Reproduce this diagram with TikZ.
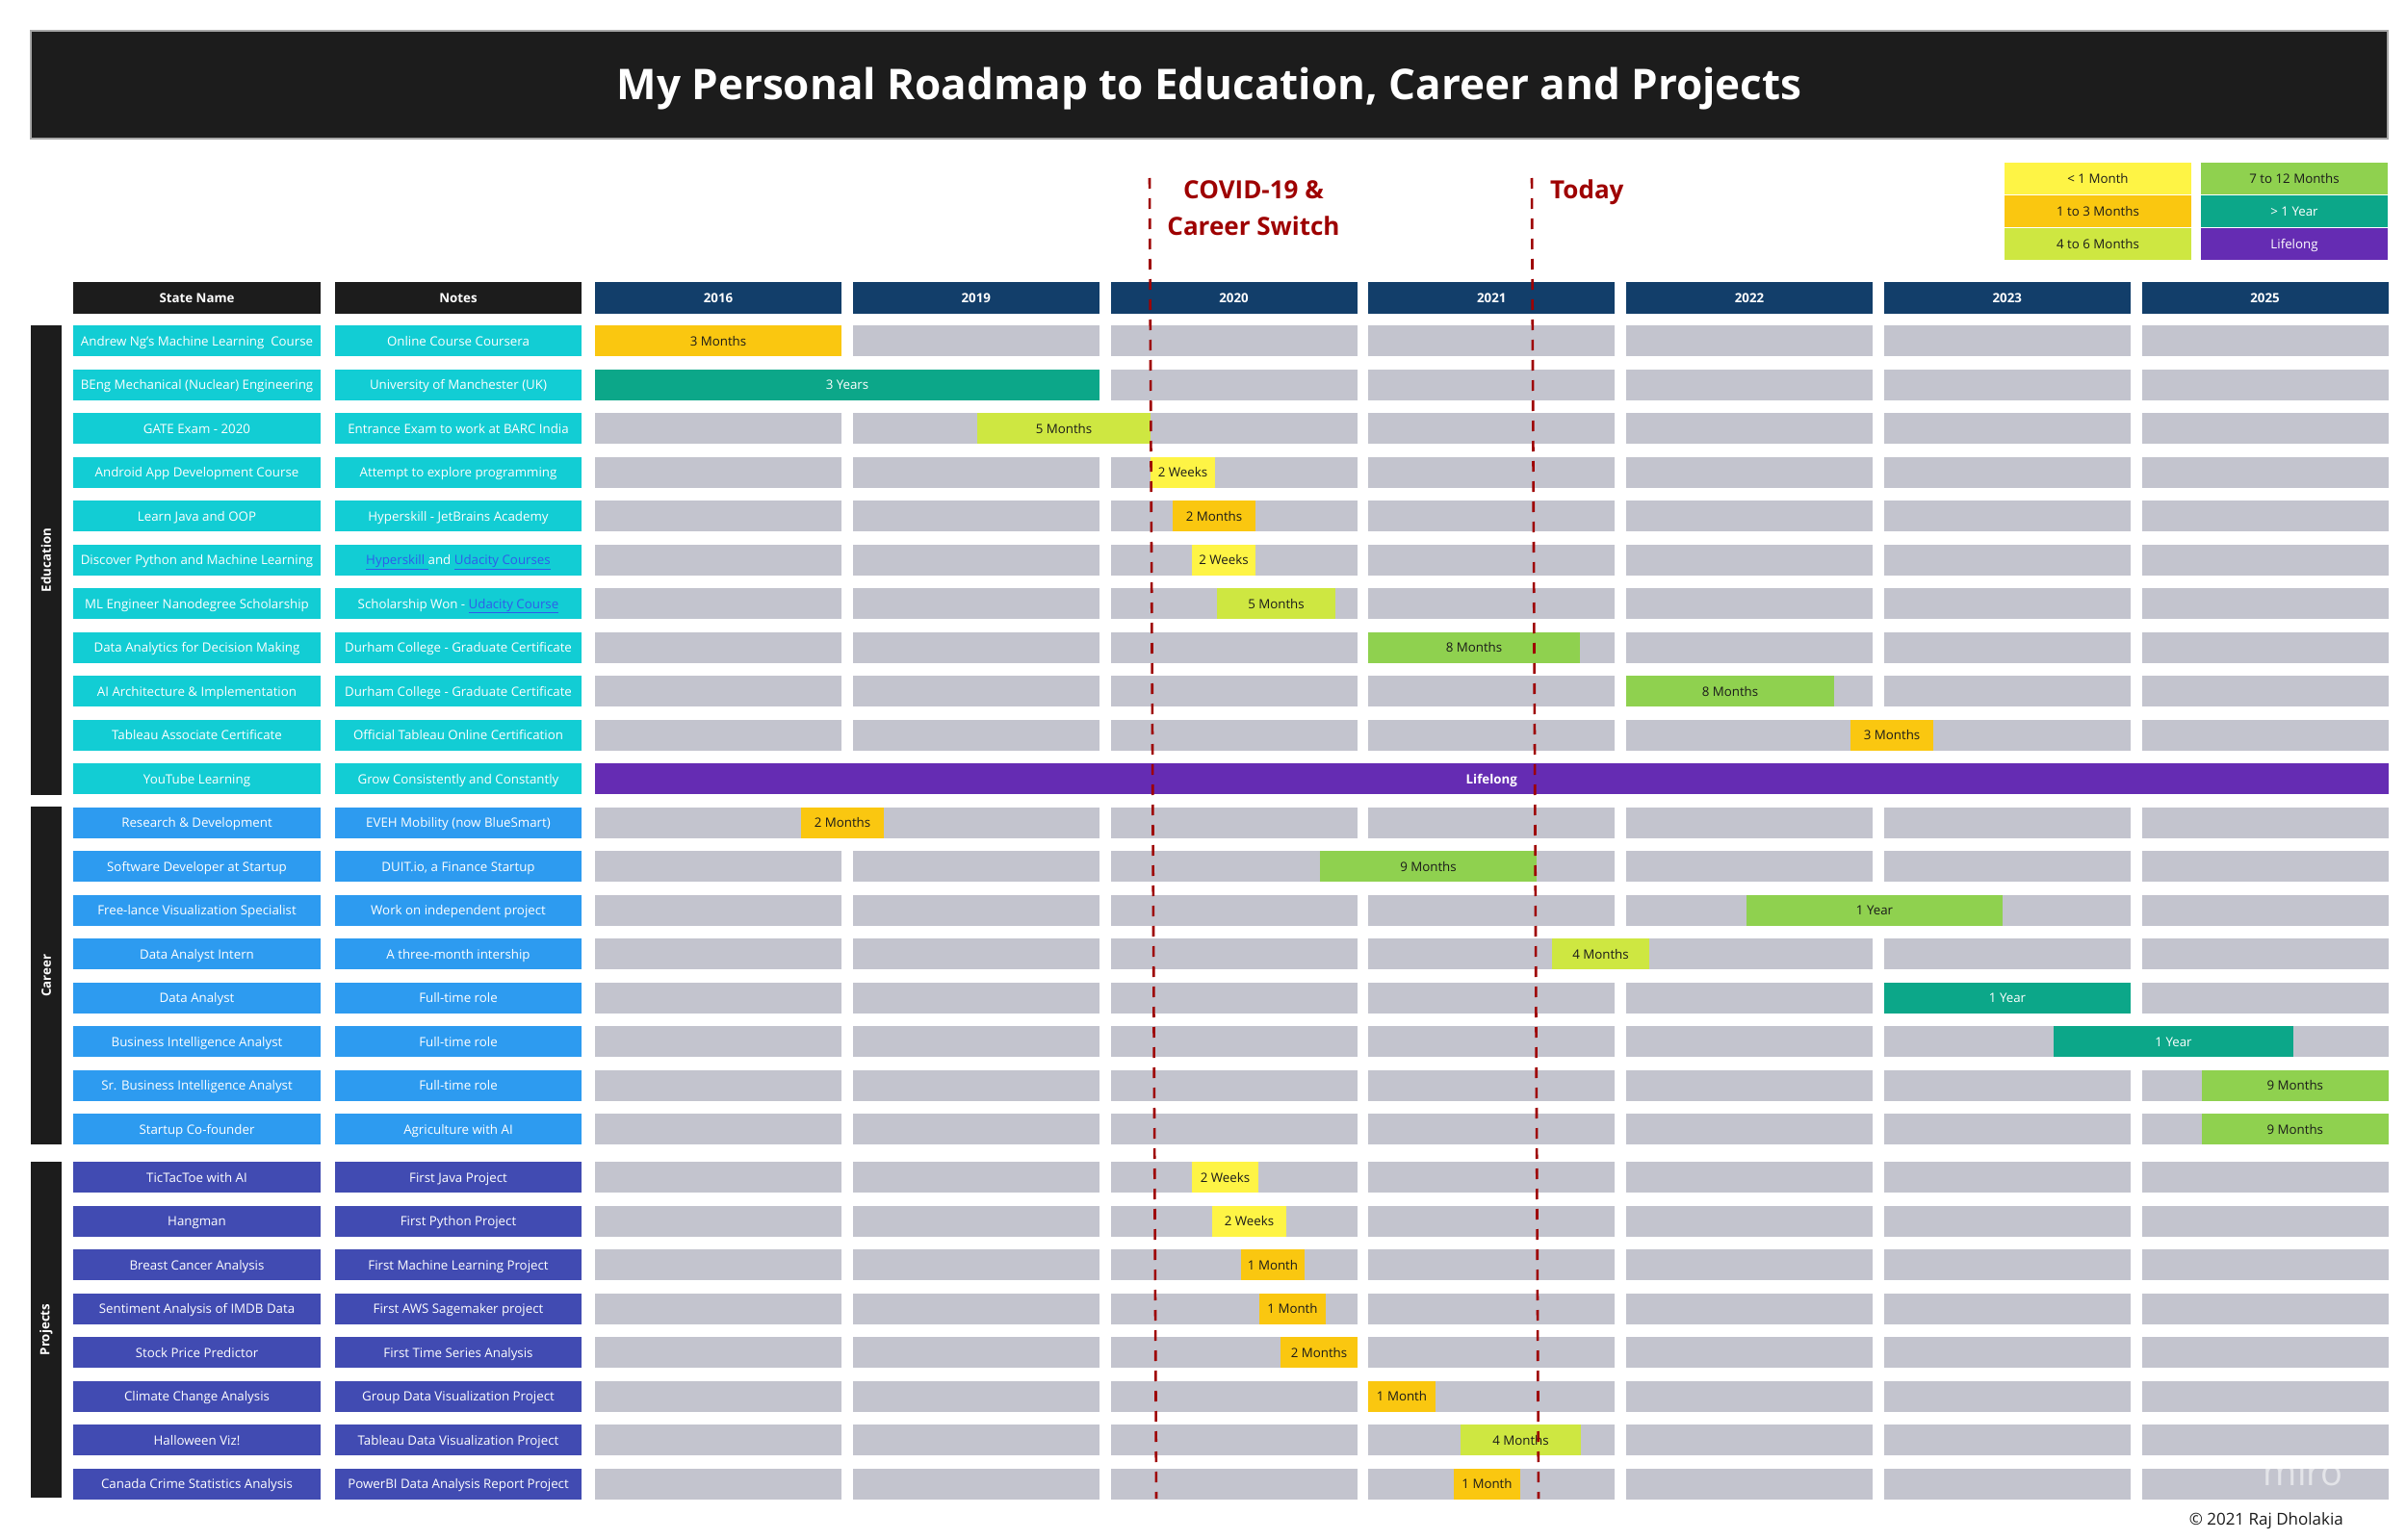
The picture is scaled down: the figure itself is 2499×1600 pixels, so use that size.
\documentclass[tikz,border=0pt]{standalone}
\usepackage{fontspec}
\setmainfont{Open Sans}

\definecolor{mBlack}{HTML}{1C1C1C}
\definecolor{mHead}{HTML}{123E6A}
\definecolor{mCyan}{HTML}{12CDD4}
\definecolor{mBlue}{HTML}{2D9BF0}
\definecolor{mIndigo}{HTML}{414BB2}
\definecolor{mCell}{HTML}{C3C4CE}
\definecolor{mYellow}{HTML}{FEF445}
\definecolor{mOrange}{HTML}{FAC710}
\definecolor{mLime}{HTML}{CEE741}
\definecolor{mGreen}{HTML}{8FD14F}
\definecolor{mTeal}{HTML}{0CA789}
\definecolor{mPurple}{HTML}{652CB3}
\definecolor{mRed}{HTML}{9E0000}
\definecolor{mLink}{HTML}{2F5BEA}
\definecolor{mText}{HTML}{1A1A1A}

\newcommand\weblink[1]{\textcolor{mLink}{\underline{#1}}}

\begin{document}
\begin{tikzpicture}[x=1pt, y=-1pt,
  cell/.style={fill=mCell, minimum width=256pt, minimum height=32pt, inner sep=0pt},
  bar/.style={minimum height=32pt, inner sep=0pt, text height=11pt, text depth=1pt, font=\fontsize{13.3}{16}\selectfont},
  rowbox/.style={text=white, minimum height=32pt, inner sep=0pt, text height=11pt, text depth=1pt, font=\fontsize{13.3}{16}\selectfont},
  headbox/.style={text=white, minimum height=33pt, inner sep=0pt, text height=11pt, text depth=1pt, font=\fontsize{13.3}{16}\selectfont\bfseries},
  groupbox/.style={fill=mBlack, rotate=90, minimum height=32pt, inner sep=0pt, text=white, font=\fontsize{13.3}{16}\selectfont\bfseries},
  legendbox/.style={minimum width=194pt, minimum height=33pt, inner sep=0pt, text height=11pt, text depth=1pt, font=\fontsize{13.3}{16}\selectfont},
  cutline/.style={draw=mRed, line width=2.6pt, dash pattern=on 11pt off 10pt},
  marktext/.style={text=mRed, inner sep=0pt, font=\fontsize{26}{38}\selectfont\bfseries}]

  %% ════ title ════
  \node[fill=mBlack, draw=gray!70, line width=1.2pt, minimum width=2448pt, minimum height=112pt, inner sep=0pt,
        text height=31pt, text depth=0pt,
        text=white, font=\fontsize{44}{52}\selectfont\bfseries] (title) at (1256,88)
        {My Personal Roadmap to Education, Career and Projects};

  %% ════ legend ════
  \node[legendbox, fill=mYellow, text=mText] (lgA) at (2179,185.5) {< 1 Month};
  \node[legendbox, fill=mOrange, text=mText] (lgB) at (2179,219.5) {1 to 3 Months};
  \node[legendbox, fill=mLime,   text=mText] (lgC) at (2179,253) {4 to 6 Months};
  \node[legendbox, fill=mGreen,  text=mText] (lgD) at (2383,185.5) {7 to 12 Months};
  \node[legendbox, fill=mTeal,   text=white] (lgE) at (2383,219.5) {> 1 Year};
  \node[legendbox, fill=mPurple, text=white] (lgF) at (2383,253) {Lifelong};

  %% ════ header row ════
  \node[headbox, fill=mBlack, minimum width=257pt] (hdState) at (204.5,309.5) {State Name};
  \node[headbox, fill=mBlack, minimum width=256pt] (hdNotes) at (476,309.5) {Notes};
  \foreach \k/\yr in {0/2016,1/2019,2/2020,3/2021,4/2022,5/2023,6/2025}
    \node[headbox, fill=mHead, minimum width=256pt] (hd\yr) at (746+267.75*\k,309.5) {\yr};

  %% ════ empty grey cells ════
  \foreach \i in {0,...,26} {
    \pgfmathsetmacro\yc{354+45.5*\i+4.5*(\i>18)}
    \foreach \k in {0,...,6}
      \node[cell] (c\i-\k) at (746+267.75*\k,\yc) {};
  }

  %% ════ group labels ════
  \node[groupbox, minimum width=488pt] (grpEdu) at (48,582) {Education};
  \node[groupbox, minimum width=351pt] (grpCar) at (48,1013.5) {Career};
  \node[groupbox, minimum width=349pt] (grpPrj) at (48,1381.5) {Projects};

  %% ════ state name / notes ════
  \foreach \i/\sname/\nname in {
      0/{Andrew Ng's Machine Learning\ \ Course}/{Online Course Coursera},
      1/{BEng Mechanical (Nuclear) Engineering}/{University of Manchester (UK)},
      2/{GATE Exam - 2020}/{Entrance Exam to work at BARC India},
      3/{Android App Development Course}/{Attempt to explore programming},
      4/{Learn Java and OOP}/{Hyperskill - JetBrains Academy},
      5/{Discover Python and Machine Learning}/{\weblink{Hyperskill }and \weblink{Udacity Courses}},
      6/{ML Engineer Nanodegree Scholarship}/{Scholarship Won - \weblink{Udacity Course}},
      7/{Data Analytics for Decision Making}/{Durham College - Graduate Certificate},
      8/{AI Architecture \& Implementation}/{Durham College - Graduate Certificate},
      9/{Tableau Associate Certificate}/{Official Tableau Online Certification},
      10/{YouTube Learning}/{Grow Consistently and Constantly}} {
    \pgfmathsetmacro\yc{354+45.5*\i}
    \node[rowbox, fill=mCyan, minimum width=257pt] (sn\i) at (204.5,\yc) {\sname};
    \node[rowbox, fill=mCyan, minimum width=256pt] (nt\i) at (476,\yc) {\nname};
  }
  \foreach \i/\sname/\nname in {
      11/{Research \& Development}/{EVEH Mobility (now BlueSmart)},
      12/{Software Developer at Startup}/{DUIT.io, a Finance Startup},
      13/{Free-lance Visualization Specialist}/{Work on independent project},
      14/{Data Analyst Intern}/{A three-month intership},
      15/{Data Analyst}/{Full-time role},
      16/{Business Intelligence Analyst}/{Full-time role},
      17/{Sr. Business Intelligence Analyst}/{Full-time role},
      18/{Startup Co-founder}/{Agriculture with AI}} {
    \pgfmathsetmacro\yc{354+45.5*\i}
    \node[rowbox, fill=mBlue, minimum width=257pt] (sn\i) at (204.5,\yc) {\sname};
    \node[rowbox, fill=mBlue, minimum width=256pt] (nt\i) at (476,\yc) {\nname};
  }
  \foreach \i/\sname/\nname in {
      19/{TicTacToe with AI}/{First Java Project},
      20/{Hangman}/{First Python Project},
      21/{Breast Cancer Analysis}/{First Machine Learning Project},
      22/{Sentiment Analysis of IMDB Data}/{First AWS Sagemaker project},
      23/{Stock Price Predictor}/{First Time Series Analysis},
      24/{Climate Change Analysis}/{Group Data Visualization Project},
      25/{Halloween Viz!}/{Tableau Data Visualization Project},
      26/{Canada Crime Statistics Analysis}/{PowerBI Data Analysis Report Project}} {
    \pgfmathsetmacro\yc{358.5+45.5*\i}
    \node[rowbox, fill=mIndigo, minimum width=257pt] (sn\i) at (204.5,\yc) {\sname};
    \node[rowbox, fill=mIndigo, minimum width=256pt] (nt\i) at (476,\yc) {\nname};
  }

  %% ════ duration bars ════
  \foreach \i/\xa/\xb/\clr/\tc/\txt in {
      0/618/874/mOrange/mText/{3 Months},
      1/618/1142/mTeal/white/{3 Years},
      2/1015/1195/mLime/mText/{5 Months},
      3/1195/1262/mYellow/mText/{2 Weeks},
      4/1218/1304/mOrange/mText/{2 Months},
      5/1238/1304/mYellow/mText/{2 Weeks},
      6/1264/1387/mLime/mText/{5 Months},
      7/1421/1641/mGreen/mText/{8 Months},
      8/1689/1905/mGreen/mText/{8 Months},
      9/1922/2008/mOrange/mText/{3 Months},
      10/618/2480.5/mPurple/white/{\textbf{Lifelong}},
      11/832/918/mOrange/mText/{2 Months},
      12/1371/1596/mGreen/mText/{9 Months},
      13/1814/2080/mGreen/mText/{1 Year},
      14/1612/1713/mLime/mText/{4 Months},
      15/1957/2213/mTeal/white/{1 Year},
      16/2133/2382/mTeal/white/{1 Year},
      17/2287/2480.5/mGreen/mText/{9 Months},
      18/2287/2480.5/mGreen/mText/{9 Months},
      19/1238/1307/mYellow/mText/{2 Weeks},
      20/1259/1336/mYellow/mText/{2 Weeks},
      21/1289/1355/mOrange/mText/{1 Month},
      22/1308/1377/mOrange/mText/{1 Month},
      23/1330/1410/mOrange/mText/{2 Months},
      24/1421/1491/mOrange/mText/{1 Month},
      25/1517/1642/mLime/mText/{4 Months},
      26/1510/1579/mOrange/mText/{1 Month}} {
    \pgfmathsetmacro\yc{354+45.5*\i+4.5*(\i>18)}
    \pgfmathsetmacro\w{\xb-\xa}
    \node[bar, fill=\clr, text=\tc, minimum width=\w pt] (bar\i) at ({(\xa+\xb)/2},\yc) {\txt};
  }

  %% ════ covid / today markers ════
  \coordinate (covidTop) at (1194,185);
  \coordinate (covidBot) at (1201,1557);
  \coordinate (todayTop) at (1591,185);
  \coordinate (todayBot) at (1598,1557);
  \draw[cutline] (covidTop) -- (covidBot);
  \draw[cutline] (todayTop) -- (todayBot);
  \node[marktext, align=center] (covid) at (1302,216) {COVID-19 \&\\Career Switch};
  \node[marktext, anchor=west] (today) at (1610,200) {Today};

  %% ════ footer ════
  \node[anchor=east, inner sep=0pt, text=mText, font=\fontsize{17}{20}\selectfont] (credit) at (2434,1580) {\textcopyright{} 2021 Raj Dholakia};
  \node[inner sep=0pt, text=white, opacity=0.55, font=\fontsize{38}{42}\selectfont] (wmark) at (2392,1530) {miro};

  \pgfresetboundingbox
  \path[use as bounding box] (0,0) rectangle (2499,1600);
\end{tikzpicture}
\end{document}
